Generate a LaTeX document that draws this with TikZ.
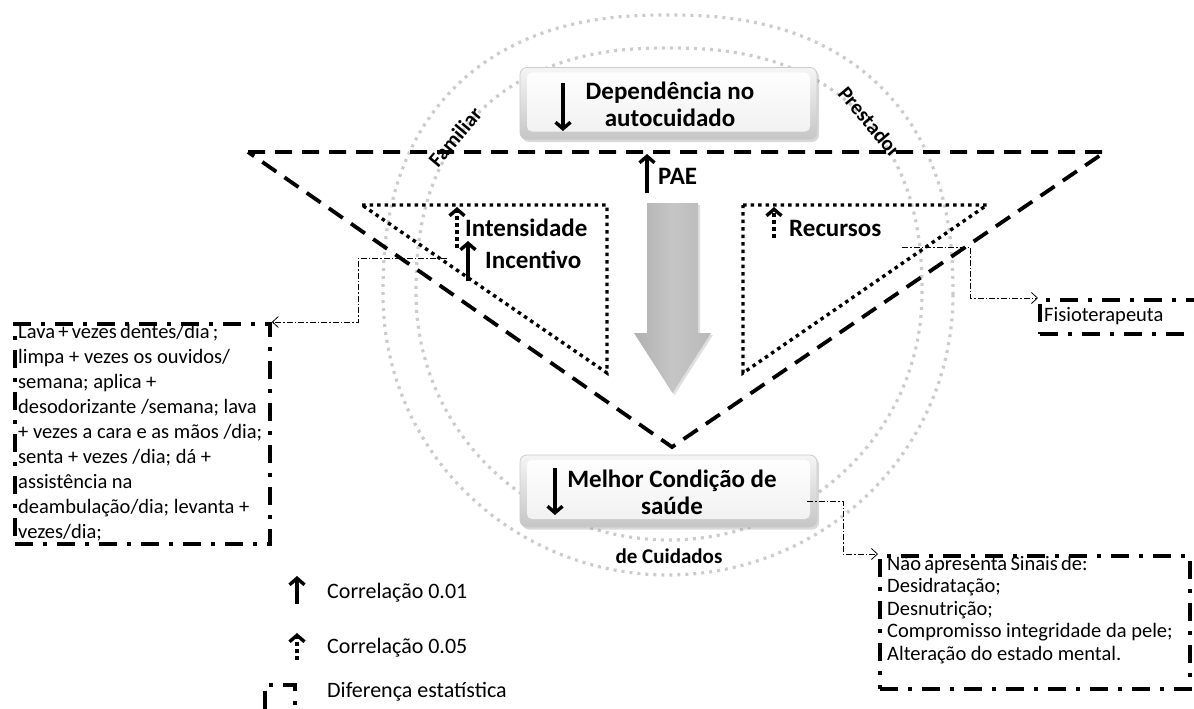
\documentclass[tikz,border=0pt]{standalone}
\usepackage{fontspec}
\setmainfont{Carlito}
\usetikzlibrary{arrows.meta,shadows}

% narrower word spaces for the detail texts
\newcommand{\narrowspaces}{\spaceskip=0.16em plus 0.05em\relax}

\tikzset{
  ring/.style={draw=gray!40, line width=3.2pt, dash pattern=on 3pt off 5pt},
  bigtri/.style={line width=3.8pt, dash pattern=on 17pt off 10pt},
  dottri/.style={line width=3.4pt, dash pattern=on 3.5pt off 4pt},
  diffbox/.style={draw, line width=3.8pt, dash pattern=on 18pt off 10pt on 4pt off 10pt, inner sep=0pt},
  link/.style={line width=0.8pt, dash pattern=on 6pt off 2pt on 1.5pt off 2pt,
    -{Straight Barb[length=6pt,width=11pt,line width=0.8pt]}},
  uptip/.style={-{Straight Barb[length=6.5pt,width=15pt,line width=3.4pt]}},
  solidup/.style={line width=3.2pt, uptip},
  dotup/.style={line width=3.2pt, dash pattern=on 4pt off 3pt, uptip},
  bevelbox/.style={rounded corners=7pt, draw=gray!40, line width=0.8pt,
    top color=gray!8, bottom color=gray!45,
    minimum width=297pt, minimum height=72pt, inner sep=0pt,
    drop shadow={shadow xshift=2pt, shadow yshift=-2.5pt, opacity=0.3},
    path picture={\shade[top color=white, bottom color=gray!12, rounded corners=5pt]
      ([shift={(7,5)}]path picture bounding box.north west) rectangle
      ([shift={(-7,-8)}]path picture bounding box.south east);}},
  headtxt/.style={font=\fontsize{25}{27}\selectfont\bfseries, inner sep=0pt, align=center},
  labtxt/.style={font=\fontsize{25}{27}\selectfont\bfseries, inner sep=0pt},
  ringtxt/.style={font=\fontsize{21}{23}\selectfont\bfseries, inner sep=0pt},
  bodytxt/.style={font=\fontsize{20.5}{25}\selectfont, inner sep=0pt, align=left},
}

\begin{document}
\begin{tikzpicture}[x=1pt, y=-1pt]
\useasboundingbox (0,0) rectangle (1194,709);

% two rounded rings around the model
\draw[ring] plot[domain=0:180, samples=91, variable=\t]
  ({668+285*(cos(\t)<0 ? -1 : 1)*(abs(cos(\t))+0.00001)^0.85}, {295-280*(abs(sin(\t))+0.00001)^0.85})
  -- plot[domain=180:360, samples=91, variable=\t] ({668+285*cos(\t)}, {295-280*sin(\t)}) -- cycle;
\draw[ring] plot[domain=0:180, samples=91, variable=\t]
  ({669+253*(cos(\t)<0 ? -1 : 1)*(abs(cos(\t))+0.00001)^0.85}, {294-246*(abs(sin(\t))+0.00001)^0.85})
  -- plot[domain=180:360, samples=91, variable=\t] ({669+253*cos(\t)}, {294-246*sin(\t)}) -- cycle;

% texts set between the rings
\node[ringtxt, rotate=50] (familiar) at (455,137) {Familiar};
\node[ringtxt, rotate=-50] (prestador) at (870,122) {Prestador};
\node[ringtxt] (cuidados) at (669,556) {de Cuidados};

% large dashed triangle
\draw[bigtri] (248,152) -- (1105,152) -- (672,447) -- cycle;

% dotted inner triangles
\draw[dottri] (362,205) -- (607,205) -- (607,373) -- cycle;
\draw[dottri] (743,205) -- (987,205) -- (743,373) -- cycle;

% central gray arrow
\shade[left color=gray!62, right color=gray!55, middle color=gray!45,
  drop shadow={shadow xshift=2pt, shadow yshift=-2pt, opacity=0.25}]
  (647,203) -- (698,203) -- (698,333) -- (711,333) -- (672.5,393) -- (634,333) -- (647,333) -- cycle;

% outcome boxes
\node[bevelbox] (dep) at (668.5,103.5) {};
\node[headtxt] (deptext) at (670,104) {Dependência no\\autocuidado};
\draw[solidup] (563,83) -- (563,131);

\node[bevelbox] (mel) at (668.5,491) {};
\node[headtxt] (meltext) at (672,492) {Melhor Condição de\\saúde};
\draw[solidup] (555,468) -- (555,515);

% PAE
\draw[solidup] (647,193) -- (647,154);
\node[labtxt, anchor=west] (pae) at (658,176) {PAE};

% left triangle labels
\draw[dotup] (457,248) -- (457,207);
\draw[solidup] (468,281) -- (468,241);
\node[labtxt, anchor=west] (intens) at (465,228) {Intensidade};
\node[labtxt, anchor=west] (incent) at (485,260) {Incentivo};

% right triangle label
\draw[dotup] (774,238) -- (774,207);
\node[labtxt, anchor=west] (recursos) at (789,228) {Recursos};

% detail boxes
\node[diffbox, anchor=north west, minimum width=255pt, minimum height=220pt] (hyg) at (13,322) {};
\node[bodytxt, anchor=north west] (hygtext) at (18,324) {\narrowspaces Lava + vezes dentes/dia ;\\
limpa + vezes os ouvidos/\\
semana; aplica +\\
desodorizante /semana; lava\\
+ vezes a cara e as mãos /dia;\\
senta + vezes /dia; dá +\\
assistência na\\
deambulação/dia; levanta +\\
vezes/dia;};

\node[diffbox, anchor=north west, minimum width=310pt, minimum height=133pt] (signs) at (878,554) {};
\node[bodytxt, font=\fontsize{20.5}{22.5}\selectfont, anchor=north west] (signstext) at (887,556) {\narrowspaces Não apresenta Sinais de:\\
Desidratação;\\
Desnutrição;\\
Compromisso integridade da pele;\\
Alteração do estado mental.};

\begin{scope}
\clip (0,0) rectangle (1194,709);
\node[diffbox, anchor=north west, minimum width=170pt, minimum height=34pt] (fisio) at (1038,298) {};
\node[diffbox, anchor=north west, minimum width=30pt, minimum height=60pt] (legbox) at (263,683) {};
\end{scope}
\node[bodytxt, font=\fontsize{20.5}{24}\selectfont, anchor=west] (fisiotext) at (1044,316) {Fisioterapeuta};

% connectors to the detail boxes
\coordinate (fromleft) at (447,258);
\coordinate (fromright) at (902,247);
\coordinate (frommel) at (807,501);
\draw[link] (fromleft) -- ++(-89,0) |- (hyg.north east);
\draw[link] (fromright) -- ++(68,0) |- (fisio.north west);
\draw[link] (frommel) -- ++(36,0) |- (signs.north west);

% legend
\draw[solidup] (297,604) -- (297,576);
\node[bodytxt, font=\fontsize{22}{26}\selectfont, anchor=west] (leg1) at (327,593) {Correlação 0.01};
\draw[dotup] (297,660) -- (297,633);
\node[bodytxt, font=\fontsize{22}{26}\selectfont, anchor=west] (leg2) at (327,648) {Correlação 0.05};
\node[bodytxt, font=\fontsize{22}{26}\selectfont, anchor=west] (leg3) at (327,692) {Diferença estatística};
\end{tikzpicture}
\end{document}
